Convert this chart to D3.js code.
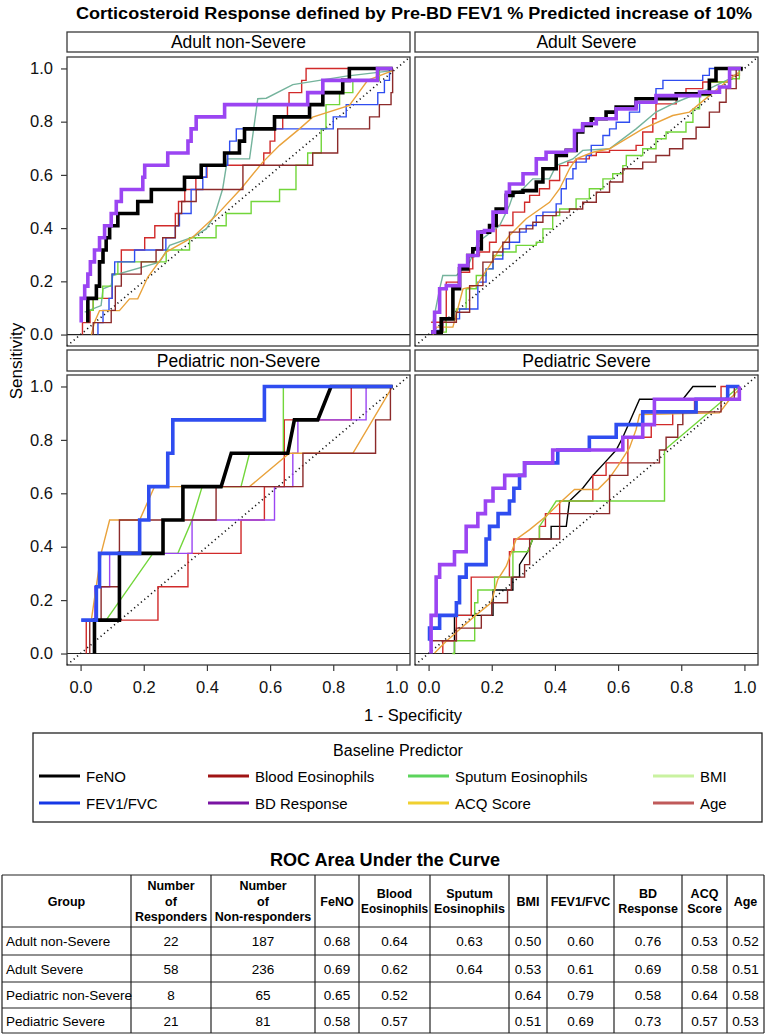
<!DOCTYPE html>
<html><head><meta charset="utf-8">
<script src="https://cdn.jsdelivr.net/npm/d3@7/dist/d3.min.js"></script>
<style>body{margin:0;background:#fff;} svg{display:block;}</style>
</head><body><svg id="chart" width="765" height="1035"></svg>
<script>
// ---------------- DATA ----------------
const chartTitle = "Corticosteroid Response defined by Pre-BD FEV1 % Predicted increase of 10%";
const seriesNames = ["FeNO","Blood Eosinophils","Sputum Eosinophils","BMI","FEV1/FVC","BD Response","ACQ Score","Age"];
const lineColors   = ["#000000","#d12a2a","#74b39c","#72d63a","#2f4df0","#9b45f2","#e9a23b","#8c2a2a"];
const legendColors = ["#000000","#a01414","#5cd45c","#c9f2a0","#1638e6","#7a14a3","#f0d030","#c05a5a"];
const panelTitles = ["Adult non-Severe","Adult Severe","Pediatric non-Severe","Pediatric Severe"];
const tickValues = [0,0.2,0.4,0.6,0.8,1.0];

// Adult non-Severe ROC points [1-specificity, sensitivity]
const ans_FeNO = [[0.023,0.045],[0.023,0.136],[0.05,0.182],[0.06,0.273],[0.071,0.318],[0.081,0.364],[0.092,0.409],[0.118,0.455],[0.181,0.5],[0.224,0.545],[0.329,0.591],[0.382,0.636],[0.456,0.682],[0.503,0.727],[0.519,0.773],[0.614,0.818],[0.725,0.864],[0.767,0.909],[0.83,0.955],[0.851,1.0],[0.988,1.0]];
const ans_BloodEos = [[0.006,0],[0.006,0.045],[0.03,0.091],[0.04,0.136],[0.1,0.227],[0.129,0.318],[0.203,0.364],[0.235,0.409],[0.3,0.455],[0.31,0.5],[0.33,0.545],[0.365,0.591],[0.4,0.636],[0.58,0.682],[0.6,0.727],[0.615,0.773],[0.64,0.818],[0.655,0.864],[0.66,0.909],[0.7,0.955],[0.714,1.0],[0.988,1.0]];
const ans_Sputum = [[0.013,0.084],[0.065,0.109],[0.071,0.172],[0.097,0.184],[0.102,0.222],[0.25,0.272],[0.282,0.335],[0.355,0.366],[0.398,0.397],[0.424,0.447],[0.45,0.548],[0.465,0.66],[0.535,0.66],[0.561,0.886],[0.588,0.888],[0.672,0.939],[0.841,0.971],[0.988,0.992]];
const ans_BMI = [[0.02,0.045],[0.02,0.091],[0.04,0.136],[0.07,0.182],[0.1,0.227],[0.118,0.273],[0.271,0.318],[0.345,0.364],[0.429,0.409],[0.461,0.455],[0.54,0.5],[0.63,0.545],[0.682,0.636],[0.719,0.682],[0.762,0.773],[0.777,0.864],[0.82,0.909],[0.862,0.955],[0.946,1.0],[0.988,1.0]];
const ans_FEV = [[0.055,0.0],[0.055,0.045],[0.071,0.091],[0.09,0.136],[0.1,0.227],[0.108,0.273],[0.171,0.318],[0.255,0.318],[0.27,0.364],[0.3,0.409],[0.313,0.455],[0.35,0.545],[0.387,0.591],[0.398,0.636],[0.466,0.682],[0.472,0.727],[0.493,0.773],[0.8,0.818],[0.841,0.864],[0.941,0.909],[0.962,0.955],[0.978,1.0],[0.988,1.0]];
const ans_BD = [[0.002,0.045],[0.002,0.136],[0.013,0.182],[0.023,0.227],[0.031,0.273],[0.044,0.318],[0.06,0.364],[0.076,0.409],[0.097,0.455],[0.113,0.5],[0.129,0.545],[0.197,0.591],[0.203,0.636],[0.276,0.682],[0.34,0.727],[0.35,0.773],[0.366,0.818],[0.456,0.864],[0.719,0.909],[0.767,0.955],[0.94,1.0],[0.988,1.0]];
const ans_ACQ = [[0.034,0],[0.044,0.046],[0.06,0.09],[0.123,0.09],[0.155,0.134],[0.181,0.134],[0.213,0.216],[0.271,0.31],[0.355,0.366],[0.429,0.447],[0.508,0.548],[0.577,0.648],[0.63,0.711],[0.693,0.773],[0.735,0.817],[0.851,0.861],[0.909,0.955],[0.988,0.992]];
const ans_Age = [[0.04,0],[0.04,0.045],[0.097,0.091],[0.11,0.182],[0.129,0.227],[0.192,0.273],[0.239,0.318],[0.26,0.364],[0.3,0.409],[0.31,0.455],[0.32,0.5],[0.366,0.545],[0.514,0.636],[0.735,0.682],[0.814,0.773],[0.915,0.818],[0.946,0.864],[0.983,0.909],[0.988,1.0]];

// Adult Severe
const as_FeNO = [[0.008,0.009],[0.04,0.059],[0.077,0.172],[0.098,0.247],[0.124,0.297],[0.14,0.322],[0.167,0.385],[0.193,0.41],[0.214,0.472],[0.246,0.523],[0.267,0.535],[0.299,0.541],[0.341,0.573],[0.362,0.623],[0.404,0.673],[0.436,0.692],[0.467,0.761],[0.488,0.786],[0.515,0.811],[0.562,0.836],[0.594,0.855],[0.657,0.886],[0.784,0.905],[0.889,0.955],[0.91,1.0],[0.995,1.0]];
const as_BloodEos = [[0.008,0.046],[0.056,0.197],[0.098,0.234],[0.13,0.247],[0.14,0.297],[0.161,0.31],[0.193,0.347],[0.214,0.41],[0.267,0.46],[0.304,0.497],[0.32,0.523],[0.351,0.548],[0.383,0.579],[0.415,0.635],[0.441,0.648],[0.467,0.66],[0.509,0.673],[0.531,0.685],[0.573,0.692],[0.657,0.711],[0.678,0.761],[0.71,0.811],[0.72,0.867],[0.784,0.898],[0.815,0.924],[0.868,0.949],[0.953,0.974],[0.984,1.0]];
const as_Sputum = [[0.014,0.046],[0.035,0.172],[0.045,0.222],[0.088,0.222],[0.13,0.272],[0.156,0.347],[0.225,0.41],[0.256,0.485],[0.267,0.523],[0.299,0.548],[0.33,0.585],[0.383,0.585],[0.404,0.635],[0.457,0.66],[0.488,0.692],[0.573,0.698],[0.657,0.773],[0.72,0.836],[0.784,0.873],[0.889,0.924],[0.953,0.961],[0.984,0.986]];
const as_BMI = [[0.024,0.009],[0.056,0.059],[0.088,0.096],[0.119,0.172],[0.151,0.222],[0.182,0.247],[0.204,0.297],[0.235,0.31],[0.277,0.335],[0.341,0.347],[0.362,0.397],[0.393,0.447],[0.415,0.472],[0.467,0.51],[0.509,0.548],[0.552,0.585],[0.583,0.604],[0.615,0.635],[0.626,0.673],[0.678,0.698],[0.72,0.736],[0.752,0.761],[0.815,0.798],[0.837,0.848],[0.858,0.898],[0.889,0.949],[0.953,0.961],[0.984,1.0]];
const as_FEV = [[0.019,0.015],[0.045,0.059],[0.098,0.096],[0.156,0.147],[0.156,0.197],[0.182,0.247],[0.204,0.284],[0.235,0.322],[0.256,0.347],[0.288,0.385],[0.309,0.41],[0.341,0.447],[0.362,0.46],[0.404,0.491],[0.42,0.548],[0.436,0.585],[0.457,0.623],[0.467,0.648],[0.499,0.673],[0.515,0.711],[0.552,0.748],[0.573,0.773],[0.594,0.798],[0.636,0.836],[0.668,0.873],[0.72,0.924],[0.742,0.955],[0.868,0.974],[0.889,1.0],[0.989,1.0]];
const as_BD = [[0.008,0.009],[0.019,0.084],[0.035,0.172],[0.056,0.184],[0.098,0.259],[0.124,0.297],[0.156,0.385],[0.177,0.391],[0.204,0.46],[0.246,0.535],[0.256,0.566],[0.299,0.604],[0.341,0.66],[0.372,0.685],[0.436,0.692],[0.462,0.767],[0.488,0.792],[0.531,0.811],[0.594,0.848],[0.657,0.873],[0.72,0.898],[0.858,0.911],[0.921,0.93],[0.953,1.0],[0.989,1.0]];
const as_ACQ = [[0.014,0],[0.024,0.028],[0.077,0.028],[0.109,0.172],[0.151,0.184],[0.193,0.259],[0.225,0.322],[0.256,0.372],[0.309,0.435],[0.383,0.497],[0.415,0.548],[0.446,0.623],[0.467,0.66],[0.52,0.685],[0.573,0.698],[0.678,0.773],[0.773,0.823],[0.826,0.836],[0.889,0.898],[0.942,0.949],[0.984,0.986]];
const as_Age = [[0.014,0.009],[0.045,0.046],[0.088,0.084],[0.13,0.184],[0.172,0.272],[0.204,0.31],[0.235,0.347],[0.256,0.385],[0.288,0.397],[0.33,0.422],[0.362,0.447],[0.404,0.46],[0.446,0.472],[0.488,0.497],[0.531,0.535],[0.573,0.573],[0.615,0.623],[0.678,0.648],[0.72,0.673],[0.763,0.698],[0.805,0.736],[0.847,0.779],[0.889,0.836],[0.921,0.873],[0.942,0.924],[0.974,1.0]];

// Pediatric non-Severe
const pns_FeNO = [[0.044,0],[0.044,0.125],[0.123,0.125],[0.123,0.375],[0.261,0.375],[0.261,0.5],[0.324,0.5],[0.324,0.625],[0.445,0.625],[0.477,0.75],[0.656,0.75],[0.677,0.875],[0.751,0.875],[0.793,1.0],[0.988,1.0]];
const pns_BloodEos = [[0.018,0],[0.018,0.125],[0.245,0.125],[0.245,0.25],[0.34,0.25],[0.34,0.375],[0.508,0.375],[0.508,0.5],[0.582,0.5],[0.582,0.625],[0.645,0.625],[0.645,0.875],[0.857,0.875],[0.857,1.0],[0.988,1.0]];
const pns_BMI = [[0.05,0.125],[0.081,0.125],[0.229,0.375],[0.308,0.375],[0.353,0.5],[0.385,0.625],[0.508,0.625],[0.535,0.75],[0.642,0.75],[0.642,1.0],[0.988,1.0]];
const pns_FEV = [[0.002,0.125],[0.05,0.25],[0.06,0.375],[0.187,0.5],[0.216,0.625],[0.276,0.75],[0.292,0.875],[0.582,1.0],[0.988,1.0]];
const pns_BD = [[0.002,0.125],[0.045,0.125],[0.045,0.25],[0.092,0.25],[0.092,0.375],[0.353,0.375],[0.353,0.5],[0.614,0.5],[0.614,0.625],[0.672,0.625],[0.672,0.75],[0.688,0.75],[0.688,0.875],[0.904,0.875],[0.904,1.0],[0.988,1.0]];
const pns_ACQ = [[0.034,0.125],[0.065,0.375],[0.092,0.5],[0.187,0.5],[0.234,0.625],[0.535,0.625],[0.661,0.75],[0.862,0.75],[0.988,1.0]];
const pns_Age = [[0.029,0],[0.029,0.125],[0.065,0.125],[0.065,0.25],[0.123,0.25],[0.123,0.5],[0.429,0.5],[0.429,0.625],[0.704,0.625],[0.704,0.75],[0.934,0.75],[0.934,0.875],[0.981,0.875],[0.981,1.0]];

// Pediatric Severe
const ps_FeNO = [[0.082,0],[0.082,0.143],[0.204,0.143],[0.204,0.238],[0.267,0.238],[0.267,0.286],[0.288,0.286],[0.288,0.333],[0.314,0.381],[0.33,0.429],[0.388,0.429],[0.388,0.476],[0.436,0.476],[0.446,0.571],[0.488,0.619],[0.52,0.667],[0.557,0.714],[0.594,0.762],[0.615,0.81],[0.668,0.952],[0.805,0.952],[0.837,1.0],[0.91,1.0]];
const ps_BloodEos = [[0.045,0],[0.045,0.048],[0.088,0.143],[0.135,0.286],[0.256,0.381],[0.27,0.429],[0.351,0.476],[0.37,0.524],[0.415,0.571],[0.52,0.667],[0.562,0.714],[0.631,0.81],[0.705,0.857],[0.773,0.905],[0.842,0.952],[0.926,1.0],[0.984,1.0]];
const ps_BMI = [[0.075,0],[0.082,0],[0.082,0.048],[0.146,0.048],[0.146,0.19],[0.156,0.19],[0.156,0.238],[0.209,0.238],[0.209,0.286],[0.267,0.286],[0.267,0.381],[0.314,0.381],[0.33,0.429],[0.351,0.429],[0.351,0.476],[0.378,0.524],[0.404,0.571],[0.747,0.571],[0.747,0.762],[0.984,1.0]];
const ps_FEV = [[0.003,0.048],[0.003,0.095],[0.035,0.143],[0.088,0.19],[0.098,0.286],[0.119,0.333],[0.182,0.429],[0.193,0.476],[0.22,0.524],[0.256,0.571],[0.27,0.619],[0.288,0.667],[0.304,0.714],[0.409,0.762],[0.509,0.81],[0.594,0.857],[0.678,0.905],[0.847,0.952],[0.947,1.0],[0.984,1.0]];
const ps_BD = [[0.008,0],[0.008,0.143],[0.024,0.286],[0.035,0.333],[0.082,0.381],[0.119,0.476],[0.156,0.524],[0.18,0.571],[0.204,0.619],[0.241,0.667],[0.304,0.714],[0.393,0.762],[0.615,0.81],[0.678,0.857],[0.715,0.952],[0.984,1.0]];
const ps_ACQ = [[0.019,0.002],[0.056,0.046],[0.098,0.09],[0.146,0.14],[0.198,0.19],[0.219,0.277],[0.246,0.327],[0.277,0.427],[0.32,0.464],[0.372,0.514],[0.415,0.564],[0.462,0.614],[0.536,0.614],[0.573,0.658],[0.599,0.702],[0.636,0.77],[0.657,0.839],[0.668,0.895],[0.921,0.901],[0.953,0.951],[0.984,0.991]];
const ps_Age = [[0.003,0.048],[0.088,0.095],[0.167,0.143],[0.2,0.19],[0.25,0.238],[0.262,0.286],[0.304,0.333],[0.32,0.429],[0.415,0.524],[0.573,0.667],[0.631,0.714],[0.731,0.762],[0.752,0.81],[0.789,0.857],[0.805,0.905],[0.926,0.952],[0.968,1.0],[0.984,1.0]];

// drawing style per panel: which curves are step-shaped, which are emphasised
const stepSeries = [
  ["FeNO","Blood Eosinophils","BMI","FEV1/FVC","BD Response","Age"],
  ["FeNO","Blood Eosinophils","BMI","FEV1/FVC","BD Response","Age"],
  ["FEV1/FVC"],
  ["Blood Eosinophils","FEV1/FVC","BD Response","Age"]
];
const thickSeries = [["FeNO","BD Response"],["FeNO","BD Response"],["FeNO","FEV1/FVC"],["FEV1/FVC","BD Response"]];

// Table
const tableTitle = "ROC Area Under the Curve";
const tableHeaders = [["Group"],["Number","of","Responders"],["Number","of","Non-responders"],["FeNO"],["Blood","Eosinophils"],["Sputum","Eosinophils"],["BMI"],["FEV1/FVC"],["BD","Response"],["ACQ","Score"],["Age"]];
const groups = ["Adult non-Severe","Adult Severe","Pediatric non-Severe","Pediatric Severe"];
const responders = [22,58,8,21];
const nonResponders = [187,236,65,81];
const aucFeNO = [0.68,0.69,0.65,0.58];
const aucBloodEos = [0.64,0.62,0.52,0.57];
const aucSputum = [0.63,0.64,null,null];
const aucBMI = [0.50,0.53,0.64,0.51];
const aucFEV = [0.60,0.61,0.79,0.69];
const aucBD = [0.76,0.69,0.58,0.73];
const aucACQ = [0.53,0.58,0.64,0.57];
const aucAge = [0.52,0.51,0.58,0.53];

// ---------------- BUILD ----------------
const panelData = [
  {"FeNO":ans_FeNO,"Blood Eosinophils":ans_BloodEos,"Sputum Eosinophils":ans_Sputum,"BMI":ans_BMI,"FEV1/FVC":ans_FEV,"BD Response":ans_BD,"ACQ Score":ans_ACQ,"Age":ans_Age},
  {"FeNO":as_FeNO,"Blood Eosinophils":as_BloodEos,"Sputum Eosinophils":as_Sputum,"BMI":as_BMI,"FEV1/FVC":as_FEV,"BD Response":as_BD,"ACQ Score":as_ACQ,"Age":as_Age},
  {"FeNO":pns_FeNO,"Blood Eosinophils":pns_BloodEos,"BMI":pns_BMI,"FEV1/FVC":pns_FEV,"BD Response":pns_BD,"ACQ Score":pns_ACQ,"Age":pns_Age},
  {"FeNO":ps_FeNO,"Blood Eosinophils":ps_BloodEos,"BMI":ps_BMI,"FEV1/FVC":ps_FEV,"BD Response":ps_BD,"ACQ Score":ps_ACQ,"Age":ps_Age}
];
const FONT = "'Liberation Sans', Arial, Helvetica, sans-serif";
const svg = d3.select("#chart").attr("font-family", FONT);
svg.append("rect").attr("width",765).attr("height",1035).attr("fill","#fff");

svg.append("text").attr("x",414).attr("y",19).attr("text-anchor","middle")
  .attr("font-weight","bold").attr("font-size",16)
  .attr("textLength",676).attr("lengthAdjust","spacingAndGlyphs").text(chartTitle);

const colDefs = [{x0:67,x1:410},{x0:415,x1:758}];
const rowDefs = [{y0:57,y1:346,s0:32,s1:52},{y0:375,y1:665,s0:350,s1:371}];
const pad = 0.043;
const frame = "#3a3a3a";

panelTitles.forEach((title,i)=>{
  const c = colDefs[i%2], r = rowDefs[Math.floor(i/2)];
  const x = d3.scaleLinear().domain([-pad,1+pad]).range([c.x0,c.x1]);
  const y = d3.scaleLinear().domain([-pad,1+pad]).range([r.y1,r.y0]);
  const g = svg.append("g");
  g.append("rect").attr("x",c.x0).attr("y",r.s0).attr("width",c.x1-c.x0).attr("height",r.s1-r.s0)
    .attr("fill","#fff").attr("stroke",frame).attr("stroke-width",1.3);
  g.append("text").attr("x",(c.x0+c.x1)/2).attr("y",r.s1-4).attr("text-anchor","middle")
    .attr("font-size",17.5).text(title);
  g.append("line").attr("x1",c.x0).attr("x2",c.x1).attr("y1",y(0)).attr("y2",y(0))
    .attr("stroke","#222").attr("stroke-width",1.2);
  g.append("line").attr("x1",x(-pad)).attr("y1",y(-pad)).attr("x2",x(1+pad)).attr("y2",y(1+pad))
    .attr("stroke","#111").attr("stroke-width",1.6).attr("stroke-dasharray","1.2,3.2");
  const data = panelData[i];
  const order = seriesNames.filter(n=>data[n] && !thickSeries[i].includes(n))
    .concat(seriesNames.filter(n=>data[n] && thickSeries[i].includes(n)));
  order.forEach(n=>{
    const k = seriesNames.indexOf(n);
    const line = d3.line().x(d=>x(d[0])).y(d=>y(d[1]))
      .curve(stepSeries[i].includes(n) ? d3.curveStepAfter : d3.curveLinear);
    const thick = thickSeries[i].includes(n);
    g.append("path").attr("d",line(data[n])).attr("fill","none")
      .attr("stroke",lineColors[k]).attr("stroke-width",thick?3.6:1.4)
      .attr("stroke-linejoin","miter").attr("stroke-linecap","butt");
  });
  g.append("rect").attr("x",c.x0).attr("y",r.y0).attr("width",c.x1-c.x0).attr("height",r.y1-r.y0)
    .attr("fill","none").attr("stroke",frame).attr("stroke-width",1.3);
  if (i%2===0) {
    const ax = g.append("g").attr("transform",`translate(${c.x0},0)`)
      .call(d3.axisLeft(y).tickValues(tickValues).tickFormat(d3.format(".1f")).tickSize(6).tickPadding(8));
    ax.select(".domain").remove();
    ax.attr("font-family",FONT).attr("font-size",16.5);
    ax.selectAll("line").attr("stroke",frame).attr("stroke-width",1.2);
    ax.selectAll("text").attr("fill","#111");
  }
  if (i>=2) {
    const ax = g.append("g").attr("transform",`translate(0,${r.y1})`)
      .call(d3.axisBottom(x).tickValues(tickValues).tickFormat(d3.format(".1f")).tickSize(6).tickPadding(10));
    ax.select(".domain").remove();
    ax.attr("font-family",FONT).attr("font-size",16.5);
    ax.selectAll("line").attr("stroke",frame).attr("stroke-width",1.2);
    ax.selectAll("text").attr("fill","#111");
  }
});

svg.append("text").attr("transform","translate(22,361) rotate(-90)").attr("text-anchor","middle")
  .attr("font-size",17).text("Sensitivity");
svg.append("text").attr("x",413).attr("y",721).attr("text-anchor","middle")
  .attr("font-size",16.5).text("1 - Specificity");

// Legend
const lg = svg.append("g");
lg.append("rect").attr("x",33).attr("y",733).attr("width",729).attr("height",89)
  .attr("fill","#fff").attr("stroke","#222").attr("stroke-width",1.3);
lg.append("text").attr("x",398).attr("y",756).attr("text-anchor","middle").attr("font-size",16).text("Baseline Predictor");
const legX = [86,255,455,700];
const legY = [776,803];
seriesNames.forEach((n,k)=>{
  const cx = legX[k%4], cy = legY[Math.floor(k/4)];
  lg.append("line").attr("x1",cx-47).attr("x2",cx-6).attr("y1",cy).attr("y2",cy)
    .attr("stroke",legendColors[k]).attr("stroke-width",3.2);
  lg.append("text").attr("x",cx).attr("y",cy+5.5).attr("font-size",15).text(n);
});

// Table
svg.append("text").attr("x",385).attr("y",866).attr("text-anchor","middle").attr("font-weight","bold")
  .attr("font-size",18).attr("textLength",230).attr("lengthAdjust","spacingAndGlyphs").text(tableTitle);
const colX = [2,131,211,315,359,430,509,547,614,682,727,764];
const rowY = [875,927,955,982,1008,1033];
const tg = svg.append("g");
colX.forEach(cx=>tg.append("line").attr("x1",cx).attr("x2",cx).attr("y1",rowY[0]).attr("y2",rowY[rowY.length-1]).attr("stroke","#222").attr("stroke-width",1.2));
rowY.forEach(ry=>tg.append("line").attr("x1",colX[0]).attr("x2",colX[colX.length-1]).attr("y1",ry).attr("y2",ry).attr("stroke","#222").attr("stroke-width",1.2));
tableHeaders.forEach((lines,j)=>{
  const cx = (colX[j]+colX[j+1])/2;
  const mid = (rowY[0]+rowY[1])/2;
  const w = colX[j+1]-colX[j]-4;
  lines.forEach((t,li)=>{
    const el = tg.append("text").attr("x",cx).attr("y",mid-(lines.length-1)*15.5/2+li*15.5+4.5)
      .attr("text-anchor","middle").attr("font-weight","bold").attr("font-size",12.5).text(t);
    const tw = el.node().getComputedTextLength();
    if (tw > w) el.attr("textLength",w).attr("lengthAdjust","spacingAndGlyphs");
  });
});
const fmt = d3.format(".2f");
const tableRows = groups.map((gname,i)=>[gname,String(responders[i]),String(nonResponders[i]),
  aucFeNO[i],aucBloodEos[i],aucSputum[i],aucBMI[i],aucFEV[i],aucBD[i],aucACQ[i],aucAge[i]]
  .map((v,j)=> j<3 ? v : (v==null ? "" : fmt(v))));
tableRows.forEach((row,i)=>{
  const cy = (rowY[i+1]+rowY[i+2])/2 + 5;
  row.forEach((v,j)=>{
    const t = tg.append("text").attr("y",cy).attr("font-size",13.5).text(v);
    if (j===0) t.attr("x",colX[0]+4);
    else t.attr("x",(colX[j]+colX[j+1])/2).attr("text-anchor","middle");
  });
});
</script></body></html>
